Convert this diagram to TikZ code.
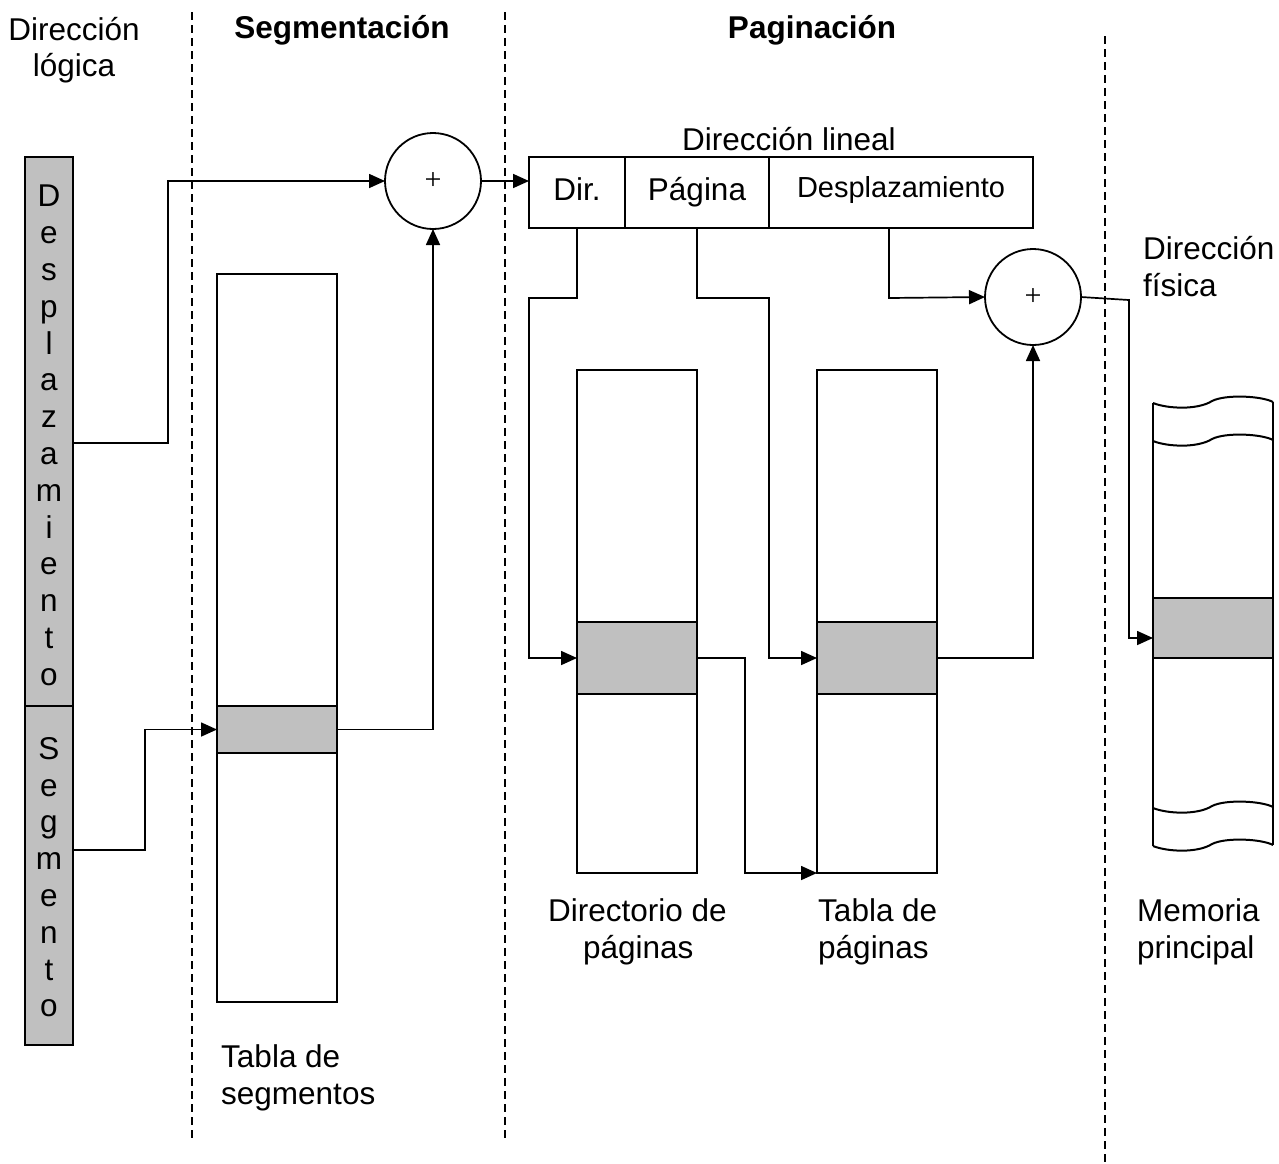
\documentclass[tikz,border=0pt]{standalone}
\usepackage{fontspec}
\setmainfont{Liberation Sans}
\newfontfamily\plusfont{Liberation Serif}
\usetikzlibrary{arrows.meta,calc}
\definecolor{rowgray}{RGB}{192,192,192}
\begin{document}
\begin{tikzpicture}[x=1pt,y=-1pt,
  box/.style={draw,line width=2pt,inner sep=0pt,outer sep=0pt,anchor=north west},
  row/.style={box,fill=rowgray},
  cell/.style={box,minimum height=71pt,text height=23pt,text depth=7pt,
    font=\fontsize{31.5}{37}\selectfont},
  conn/.style={line width=1.7pt},
  arr/.style={conn,-{Triangle[length=16pt,width=14pt]}},
  divider/.style={line width=2.6pt,dash pattern=on 8pt off 5pt},
  adder/.style={circle,draw,line width=1.8pt,minimum size=96pt,inner sep=0pt,outer sep=0pt,
    font=\plusfont\fontsize{30}{30}\selectfont},
  lbl/.style={font=\fontsize{31.5}{37}\selectfont,align=left,inner sep=0pt,anchor=north west},
  head/.style={font=\fontsize{31.5}{37}\selectfont\bfseries,inner sep=0pt},
  stack/.style={font=\fontsize{31.5}{36.8}\selectfont,align=center,inner sep=0pt},
]
% page frame
\useasboundingbox (0,0) rectangle (1279,1163);

% section dividers
\draw[divider] (192,12) -- (192,1142);
\draw[divider] (505,12) -- (505,1142);
\draw[divider] (1105,36) -- (1105,1163);

% headings
\node[lbl,align=center,anchor=north] (hlog) at (74,17) {Dirección\\[-1pt]lógica};
\node[head] (hseg) at (342,30) {Segmentación};
\node[head] (hpag) at (812,30) {Paginación};

% logical address
\node[box,fill=rowgray,minimum width=48pt,minimum height=549pt] (despl) at (25,157) {};
\node[box,fill=rowgray,minimum width=48pt,minimum height=339pt] (seg) at (25,706) {};
\node[stack,anchor=north] (despltxt) at (49,185)
  {D\\e\\s\\p\\l\\a\\z\\a\\m\\i\\e\\n\\t\\o};
\node[stack,anchor=north] (segtxt) at (49,737)
  {S\\e\\g\\m\\e\\n\\t\\o};

% segment table
\node[box,minimum width=120pt,minimum height=728pt] (segtab) at (217,274) {};
\node[row,minimum width=120pt,minimum height=47pt] (segrow) at (217,706) {};
\node[lbl] (lsegtab) at (221,1044) {Tabla de\\segmentos};

% first adder
\node[adder] (sum1) at (433,181) {+};

% linear address
\node[lbl,anchor=base] (llin) at (789,150) {Dirección lineal};
\node[cell,minimum width=96pt] (dir) at (529,157) {Dir.};
\node[cell,minimum width=144pt] (pag) at (625,157) {Página};
\node[cell,minimum width=264pt,font=\fontsize{29}{34}\selectfont] (desp) at (769,157) {\raisebox{3pt}{Desplazamiento}};

% page directory and page table
\node[box,minimum width=120pt,minimum height=503pt] (dirtab) at (577,370) {};
\node[row,minimum width=120pt,minimum height=72pt] (dirrow) at (577,622) {};
\node[box,minimum width=120pt,minimum height=503pt] (pgtab) at (817,370) {};
\node[row,minimum width=120pt,minimum height=72pt] (pgrow) at (817,622) {};
\node[lbl] (ldirtab) at (548,898) {Directorio de\\\makebox[180pt][c]{páginas}};
\node[lbl] (lpgtab) at (818,898) {Tabla de\\páginas};

% second adder
\node[adder] (sum2) at (1033,297) {+};

% physical address label
\node[lbl] (lfis) at (1143,236) {Dirección\\física};

% main memory with torn edges
\draw[line width=2pt,fill=rowgray] (1153,598) rectangle (1273,658);
\draw[line width=2pt] (1153,403) -- (1153,846);
\draw[line width=2pt] (1273,402) -- (1273,845);
\foreach \yy in {0,38,405,443} {
  \draw[line width=2pt] (1153,403+\yy) .. controls (1168,409+\yy) and (1198,410+\yy) .. (1212,401+\yy)
    .. controls (1226,394+\yy) and (1262,396+\yy) .. (1273,402+\yy);
}
\node[inner sep=0pt,outer sep=0pt,minimum width=120pt,minimum height=60pt,anchor=north west] (memrow) at (1153,598) {};
\node[lbl] (lmem) at (1137,898) {Memoria\\principal};

% routing points
\coordinate (c1) at (168,443);
\coordinate (c2) at (145,850);
\coordinate (c3) at (529,298);
\coordinate (c4) at (769,298);
\coordinate (c5) at (889,298);
\coordinate (c6) at (745,873);
\coordinate (c7) at (1129,300);
\coordinate (c8) at (1129,638);

% segmentation connectors
\draw[arr] (despl.east |- c1) -- (c1) |- (sum1.west);
\draw[arr] (seg.east |- c2) -- (c2) |- (segrow.west);
\draw[arr] (segrow.east) -| (sum1.south);
\draw[arr] (sum1.east) -- (sum1.east -| dir.west);

% paging connectors
\draw[arr] (dir.south) -- (dir.south |- c3) -- (c3) |- (dirrow.west);
\draw[arr] (pag.south) -- (pag.south |- c4) -- (c4) |- (pgrow.west);
\draw[arr] (desp.south -| c5) -- (c5) -- (sum2.west);
\draw[arr] (dirrow.east) -| (c6) -- (pgtab.south west);
\draw[arr] (pgrow.east) -| (sum2.south);
\draw[arr] (sum2.east) -- (c7) -- (c8) -- (c8 -| memrow.west);
\end{tikzpicture}
\end{document}
